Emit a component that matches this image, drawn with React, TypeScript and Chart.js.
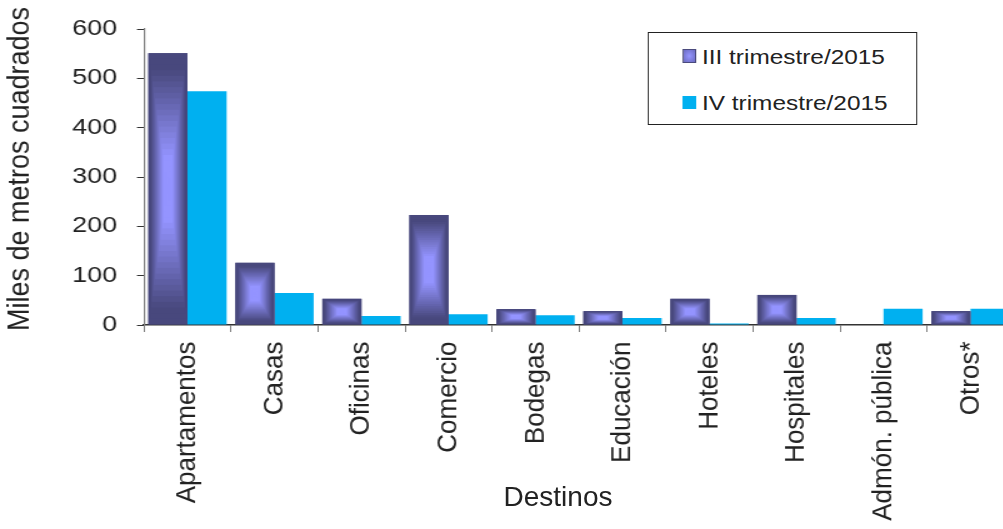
import React, { useEffect, useRef } from 'react';
import { Chart, registerables } from 'chart.js';

Chart.register(...registerables);

const categories = ['Apartamentos', 'Casas', 'Oficinas', 'Comercio', 'Bodegas', 'Educación', 'Hoteles', 'Hospitales', 'Admón. pública', 'Otros*'];
const seriesIII = [551, 126, 53, 223, 32, 28, 53, 61, 0, 28];
const seriesIV = [474, 65, 18, 22, 20, 14, 3, 14, 33, 33];
const seriesNames = ['III trimestre/2015', 'IV trimestre/2015'];
const yMin = 0;
const yMax = 600;
const yStep = 100;
const yTitle = 'Miles de metros cuadrados';
const xTitle = 'Destinos';

const SX = 1.25;
const FONT = '"Liberation Sans", Arial, Helvetica, sans-serif';
const TEXT = '#222222';

const rectGradient = {
  id: 'rectGradient',
  afterDatasetDraw(chart: any, args: any) {
    if (args.index !== 0) return;
    const meta = chart.getDatasetMeta(0);
    const ctx = chart.ctx;
    const edge = [72, 72, 125];
    const center = [148, 148, 255];
    const N = 24;
    ctx.save();
    meta.data.forEach((el: any) => {
      const { x, y, base, width } = el.getProps(['x', 'y', 'base', 'width'], true);
      const left = x - width / 2;
      const top = Math.min(y, base);
      const bottom = Math.max(y, base);
      const w = width;
      const h = bottom - top;
      if (h <= 0.5) return;
      for (let i = 0; i < N; i++) {
        const t = i / N;
        const u = Math.min(1, Math.max(0, (t - 0.1) / 0.65));
        const c = edge.map((e, k) => Math.round(e + (center[k] - e) * u));
        ctx.fillStyle = `rgb(${c.join(',')})`;
        const ix = (t * w) / 2;
        const iy = (t * h) / 2;
        ctx.fillRect(left + ix, top + iy, w - 2 * ix, h - 2 * iy);
      }
    });
    ctx.restore();
  },
};

const textPlugin = {
  id: 'textPlugin',
  afterDraw(chart: any) {
    const ctx = chart.ctx;
    const xs = chart.scales.x;
    // category labels, rotated
    ctx.save();
    ctx.font = `26px ${FONT}`;
    ctx.fillStyle = TEXT;
    ctx.textAlign = 'right';
    ctx.textBaseline = 'middle';
    const labelTop = xs.top + 16.5;
    categories.forEach((lab, i) => {
      const px = xs.getPixelForTick(i);
      ctx.save();
      ctx.translate(px, labelTop);
      ctx.scale(1.08 / SX, 1);
      ctx.rotate(-Math.PI / 2);
      ctx.fillText(lab, 0, 0);
      ctx.restore();
    });
    ctx.restore();
    // y title
    ctx.save();
    ctx.translate(16.8, 169);
    ctx.scale(1.12 / SX, 1);
    ctx.rotate(-Math.PI / 2);
    ctx.font = `27px ${FONT}`;
    ctx.fillStyle = TEXT;
    ctx.textAlign = 'center';
    ctx.textBaseline = 'middle';
    ctx.fillText(yTitle, 0, 0);
    ctx.restore();
  },
};

export default function App() {
  const ref = useRef<HTMLCanvasElement>(null);

  useEffect(() => {
    if (!ref.current) return;
    const chart = new Chart(ref.current, {
      type: 'bar',
      data: {
        labels: categories,
        datasets: [
          {
            label: seriesNames[0],
            data: seriesIII,
            backgroundColor: '#48487d',
            borderWidth: 0,
            categoryPercentage: 0.9,
            barPercentage: 1.0,
          },
          {
            label: seriesNames[1],
            data: seriesIV,
            backgroundColor: '#00B0F0',
            borderWidth: 0,
            categoryPercentage: 0.9,
            barPercentage: 1.0,
          },
        ],
      },
      options: {
        responsive: true,
        maintainAspectRatio: false,
        animation: false,
        layout: { padding: { left: 0, right: 8.8, top: 29, bottom: 0 } },
        plugins: { legend: { display: false }, tooltip: { enabled: false } },
        scales: {
          x: {
            grid: { display: true, drawOnChartArea: false, drawTicks: true, tickLength: 7, color: '#7f7f7f', offset: true },
            border: { display: true, color: '#333333', width: 1.5 },
            ticks: { display: false },
            afterFit: (s: any) => {
              s.height = 204;
            },
          },
          y: {
            min: yMin,
            max: yMax,
            ticks: { stepSize: yStep, padding: 16, color: TEXT, font: { family: FONT, size: 21.5 } },
            grid: { drawOnChartArea: false, drawTicks: true, tickLength: 5.6, color: '#333333' },
            border: { display: true, color: '#808080', width: 1.2 },
            afterFit: (s: any) => {
              s.width = 115.2;
            },
          },
        },
      },
      plugins: [rectGradient, textPlugin],
    });
    return () => chart.destroy();
  }, []);

  const rowText: React.CSSProperties = {
    position: 'absolute',
    left: 561.6,
    fontFamily: FONT,
    fontSize: 19.5,
    lineHeight: '20px',
    color: TEXT,
    whiteSpace: 'nowrap',
  };

  return (
    <div style={{ position: 'fixed', left: 0, top: 0, width: 1003, height: 529, overflow: 'hidden', background: '#fff' }}>
      <div
        style={{
          position: 'absolute',
          left: 0,
          top: 0,
          width: 820,
          height: 529,
          transform: `scaleX(${SX})`,
          transformOrigin: '0 0',
        }}
      >
        <canvas ref={ref} style={{ display: 'block' }} />
        <div
          style={{
            position: 'absolute',
            left: 518.4,
            top: 32,
            width: 215.4,
            height: 93,
            border: '1px solid #222',
            boxSizing: 'border-box',
            background: '#fff',
          }}
        />
        <div
          style={{
            position: 'absolute',
            left: 545.9,
            top: 49.3,
            width: 10.9,
            height: 13.4,
            boxSizing: 'border-box',
            border: '1.5px solid #4a4a7d',
            background: 'radial-gradient(#9696ff, #6a6ac0)',
          }}
        />
        <div style={{ ...rowText, top: 46.5 }}>{seriesNames[0]}</div>
        <div
          style={{
            position: 'absolute',
            left: 545.9,
            top: 96,
            width: 10.9,
            height: 13.4,
            background: '#00B0F0',
          }}
        />
        <div style={{ ...rowText, top: 93.2 }}>{seriesNames[1]}</div>
      </div>
      <div
        style={{
          position: 'absolute',
          left: 558,
          top: 483.4,
          transform: 'translateX(-50%)',
          fontFamily: FONT,
          fontSize: 28,
          lineHeight: '28px',
          color: TEXT,
          whiteSpace: 'nowrap',
        }}
      >
        {xTitle}
      </div>
    </div>
  );
}
